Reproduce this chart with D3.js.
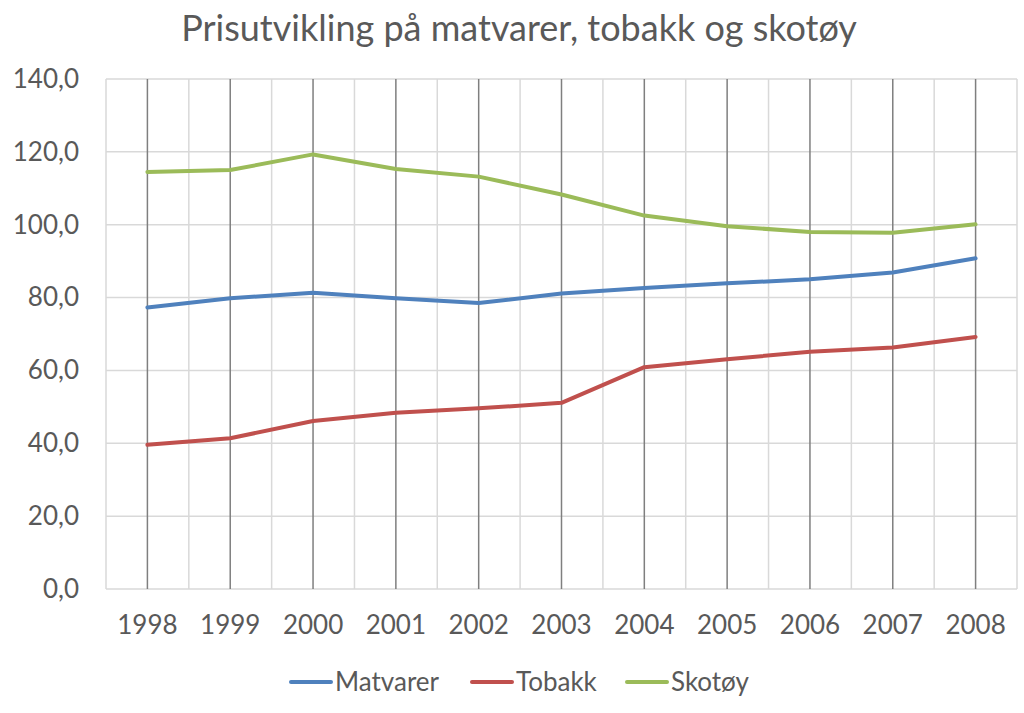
<!DOCTYPE html>
<html>
<head>
<meta charset="utf-8">
<script src="https://cdn.jsdelivr.net/npm/d3@7"></script>
<style>
  body { margin: 0; background: #fff; }
  text { font-family: Lato, "Open Sans", sans-serif; fill: #595959; }
</style>
</head>
<body>
<div id="chart"></div>
<script>
const years = ["1998", "1999", "2000", "2001", "2002", "2003", "2004", "2005", "2006", "2007", "2008"];
const matvarer = [77.3, 79.8, 81.3, 79.8, 78.5, 81.1, 82.6, 83.9, 85.0, 86.9, 90.8];
const tobakk = [39.6, 41.4, 46.1, 48.4, 49.6, 51.1, 60.9, 63.1, 65.1, 66.3, 69.2];
const skotoy = [114.5, 115.0, 119.3, 115.3, 113.2, 108.3, 102.5, 99.6, 98.0, 97.8, 100.1];
const yTicks = [0, 20, 40, 60, 80, 100, 120, 140];

const series = [
    { name: "Matvarer", values: matvarer, color: "#4F81BD" },
    { name: "Tobakk", values: tobakk, color: "#C0504D" },
    { name: "Skotøy", values: skotoy, color: "#9BBB59" }
];

const width = 1024, height = 713;
const margin = { top: 79, right: 7, bottom: 124, left: 106 };
const innerW = width - margin.left - margin.right;
const innerH = height - margin.top - margin.bottom;

const svg = d3.select("#chart")
    .append("svg")
    .attr("width", width)
    .attr("height", height);

const g = svg.append("g")
    .attr("transform", `translate(${margin.left},${margin.top})`);

const x = d3.scaleBand()
    .domain(years)
    .range([0, innerW]);

const y = d3.scaleLinear()
    .domain([0, 140])
    .range([innerH, 0]);

// horizontal gridlines
g.append("g")
    .selectAll("line")
    .data(yTicks)
    .enter()
    .append("line")
    .attr("x1", 0)
    .attr("x2", innerW)
    .attr("y1", d => y(d))
    .attr("y2", d => y(d))
    .attr("stroke", "#D9D9D9")
    .attr("stroke-width", 1.5);

// light vertical lines at category borders
const borders = years.map(d => x(d)).concat([innerW]);
g.append("g")
    .selectAll("line")
    .data(borders)
    .enter()
    .append("line")
    .attr("x1", d => d)
    .attr("x2", d => d)
    .attr("y1", 0)
    .attr("y2", innerH)
    .attr("stroke", "#D9D9D9")
    .attr("stroke-width", 1.5);

// dark vertical lines at each year
g.append("g")
    .selectAll("line")
    .data(years)
    .enter()
    .append("line")
    .attr("x1", d => x(d) + x.bandwidth() / 2)
    .attr("x2", d => x(d) + x.bandwidth() / 2)
    .attr("y1", 0)
    .attr("y2", innerH)
    .attr("stroke", "#7F7F7F")
    .attr("stroke-width", 1.5);

// y axis labels
const yAxis = g.append("g")
    .call(d3.axisLeft(y).tickValues(yTicks).tickSize(0).tickPadding(27)
        .tickFormat(d => d3.format(".1f")(d).replace(".", ",")));
yAxis.select(".domain").remove();
yAxis.selectAll("text")
    .style("font-size", "26px")
    .style("fill", "#595959");

// x axis labels
const xAxis = g.append("g")
    .attr("transform", `translate(0,${innerH})`)
    .call(d3.axisBottom(x).tickSize(0).tickPadding(27));
xAxis.select(".domain").remove();
xAxis.selectAll("text")
    .style("font-size", "26px")
    .style("fill", "#595959");

// lines
const line = d3.line()
    .x((d, i) => x(years[i]) + x.bandwidth() / 2)
    .y(d => y(d));

g.selectAll(".series")
    .data(series)
    .enter()
    .append("path")
    .attr("class", "series")
    .attr("d", d => line(d.values))
    .attr("fill", "none")
    .attr("stroke", d => d.color)
    .attr("stroke-width", 4)
    .attr("stroke-linejoin", "round")
    .attr("stroke-linecap", "round");

// title
svg.append("text")
    .attr("x", 519)
    .attr("y", 41)
    .attr("text-anchor", "middle")
    .style("font-size", "36px")
    .text("Prisutvikling på matvarer, tobakk og skotøy");

// legend
const legendX = [291, 472, 627];
const legend = svg.selectAll(".legend")
    .data(series)
    .enter()
    .append("g")
    .attr("class", "legend")
    .attr("transform", (d, i) => `translate(${legendX[i]},682)`);

legend.append("line")
    .attr("x1", 0)
    .attr("x2", 40)
    .attr("y1", 0)
    .attr("y2", 0)
    .attr("stroke", d => d.color)
    .attr("stroke-width", 4)
    .attr("stroke-linecap", "round");

legend.append("text")
    .attr("x", 44)
    .attr("y", 9)
    .style("font-size", "26px")
    .text(d => d.name);
</script>
</body>
</html>
